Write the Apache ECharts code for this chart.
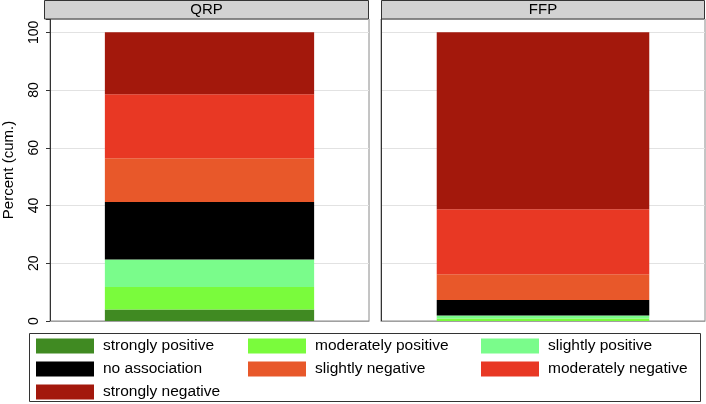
<!DOCTYPE html>
<html><head><meta charset="utf-8">
<script src="https://cdn.jsdelivr.net/npm/echarts@6/dist/echarts.min.js"></script>
<style>html,body{margin:0;padding:0;background:#fff}#c{width:706px;height:404px}</style>
</head><body><div id="c"></div>
<script>
const panels = ['QRP', 'FFP'];
const categories = ['strongly positive','moderately positive','slightly positive','no association','slightly negative','moderately negative','strongly negative'];
const colors = ['#408a22','#7afb3c','#7afc8b','#000000','#e8582a','#e83824','#a3180c'];
const qrpValues = [4.0, 7.8, 9.5, 19.9, 15.2, 22.1, 21.5];
const ffpValues = [0, 0.9, 1.0, 5.4, 8.9, 22.5, 61.3];
const yTicks = [0, 20, 40, 60, 80, 100];
const panelValues = [qrpValues, ffpValues];

const FONT = 'Liberation Sans, Arial, Helvetica, sans-serif';
const chart = echarts.init(document.getElementById('c'), null, {renderer: 'canvas'});

const gridDefs = [
  {left: 44, right: 337, top: 19, bottom: 83},
  {left: 381, right: 1, top: 19, bottom: 83}
];
const series = [];
panelValues.forEach((vals, p) => {
  categories.forEach((name, i) => {
    series.push({
      name: name, type: 'bar', stack: 'p' + p,
      xAxisIndex: p, yAxisIndex: p,
      barWidth: '65.6%',
      itemStyle: {color: colors[i]},
      emphasis: {disabled: true},
      data: [vals[i]]
    });
  });
});

const legendCols = [
  {left: 36, names: [categories[0], categories[3], categories[6]]},
  {left: 248, names: [categories[1], categories[4]]},
  {left: 481, names: [categories[2], categories[5]]}
];

chart.setOption({
  animation: false,
  textStyle: {fontFamily: FONT},
  grid: gridDefs.map(g => Object.assign({show: true, borderColor: '#8a8a8a', borderWidth: 1, backgroundColor: '#fff'}, g)),
  xAxis: panels.map((p, i) => ({
    type: 'category', gridIndex: i, data: [p],
    axisLine: {show: true, lineStyle: {color: '#a0a0a0'}},
    axisTick: {show: false}, axisLabel: {show: false}
  })),
  yAxis: panels.map((p, i) => ({
    type: 'value', gridIndex: i, min: 0, max: 104.6, interval: 20,
    name: i === 0 ? 'Percent (cum.)' : '',
    nameLocation: 'middle', nameGap: 34, nameRotate: 90,
    nameTextStyle: {fontSize: 15, color: '#000', fontFamily: FONT},
    axisLine: {show: true, lineStyle: {color: '#333'}},
    axisTick: {show: i === 0, length: 4, lineStyle: {color: '#333'}},
    axisLabel: {show: i === 0, rotate: 90, fontSize: 14, color: '#000', margin: 9, fontFamily: FONT,
      formatter: v => yTicks.includes(v) ? String(v) : ''},
    splitLine: {show: true, lineStyle: {color: '#e2e2e2', width: 1}}
  })),
  legend: legendCols.map(c => ({
    orient: 'vertical', left: c.left, top: 338, padding: 0, data: c.names,
    itemWidth: 58, itemHeight: 15, itemGap: 7,
    icon: 'rect', selectedMode: false,
    textStyle: {fontSize: 15.5, color: '#000', fontFamily: FONT, padding: [0, 0, 0, 4]}
  })),
  graphic: [
    {type: 'rect', shape: {x: 44.5, y: 0.5, width: 324, height: 18.5}, style: {fill: '#d2d2d2', stroke: '#333', lineWidth: 1}, z: 10},
    {type: 'rect', shape: {x: 381.5, y: 0.5, width: 323, height: 18.5}, style: {fill: '#d2d2d2', stroke: '#333', lineWidth: 1}, z: 10},
    {type: 'text', x: 206.5, y: 10, style: {text: panels[0], fontSize: 15, fill: '#000', fontFamily: FONT, align: 'center', verticalAlign: 'middle'}, z: 11},
    {type: 'text', x: 543, y: 10, style: {text: panels[1], fontSize: 15, fill: '#000', fontFamily: FONT, align: 'center', verticalAlign: 'middle'}, z: 11},
    {type: 'rect', shape: {x: 29.5, y: 333.5, width: 671, height: 68}, style: {fill: 'none', stroke: '#333', lineWidth: 1}, z: 0}
  ],
  series: series
});
</script></body></html>
